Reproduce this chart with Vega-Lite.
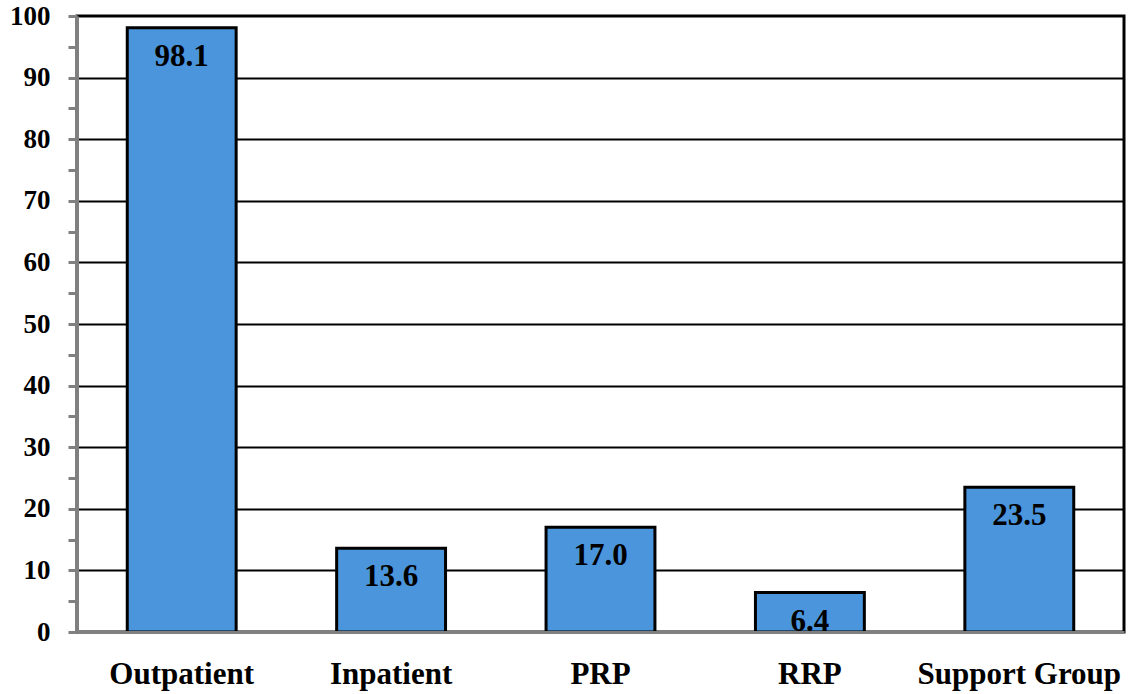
{
  "$schema": "https://vega.github.io/schema/vega-lite/v6.json",
  "autosize": "none",
  "width": 1047,
  "height": 616,
  "padding": {"left": 77, "top": 16, "right": 17, "bottom": 62},
  "background": "white",
  "config": {
    "view": {"stroke": "black", "strokeWidth": 3},
    "font": "Liberation Serif"
  },
  "data": {
    "values": [
      {"category": "Outpatient", "value": 98.1},
      {"category": "Inpatient", "value": 13.6},
      {"category": "PRP", "value": 17.0},
      {"category": "RRP", "value": 6.4},
      {"category": "Support Group", "value": 23.5}
    ]
  },
  "encoding": {
    "x": {
      "field": "category",
      "type": "nominal",
      "sort": null,
      "scale": {"paddingInner": 0.48, "paddingOuter": 0.24},
      "axis": {
        "title": null,
        "labelAngle": 0,
        "labelFont": "Liberation Serif",
        "labelFontWeight": "bold",
        "labelFontSize": 31,
        "labelColor": "black",
        "labelLimit": 0,
        "labelPadding": 27,
        "labelDx": 5,
        "ticks": false,
        "domainColor": "#808080",
        "domainWidth": 3,
        "zindex": 1
      }
    },
    "y": {
      "field": "value",
      "type": "quantitative",
      "scale": {"domain": [0, 100], "nice": false},
      "axis": {
        "title": null,
        "values": [0,5,10,15,20,25,30,35,40,45,50,55,60,65,70,75,80,85,90,95,100],
        "labelExpr": "datum.value % 10 == 0 ? datum.label : ''",
        "labelFont": "Liberation Serif",
        "labelFontWeight": "bold",
        "labelFontSize": 27,
        "labelColor": "black",
        "labelPadding": 18,
        "tickColor": "#808080",
        "tickWidth": 3,
        "tickSize": 9,
        "domainColor": "#808080",
        "domainWidth": 3,
        "grid": true,
        "gridColor": "black",
        "gridWidth": 2,
        "gridOpacity": {"condition": {"test": "datum.value % 10 != 0 || datum.value == 0 || datum.value == 100", "value": 0}, "value": 1},
        "zindex": 0
      }
    }
  },
  "layer": [
    {
      "mark": {"type": "bar", "fill": "#4a95db", "stroke": "black", "strokeWidth": 3}
    },
    {
      "mark": {
        "type": "text",
        "baseline": "middle",
        "dy": 29,
        "font": "Liberation Serif",
        "fontWeight": "bold",
        "fontSize": 31,
        "color": "black"
      },
      "encoding": {
        "text": {"field": "value", "type": "quantitative", "format": ".1f"}
      }
    }
  ]
}
